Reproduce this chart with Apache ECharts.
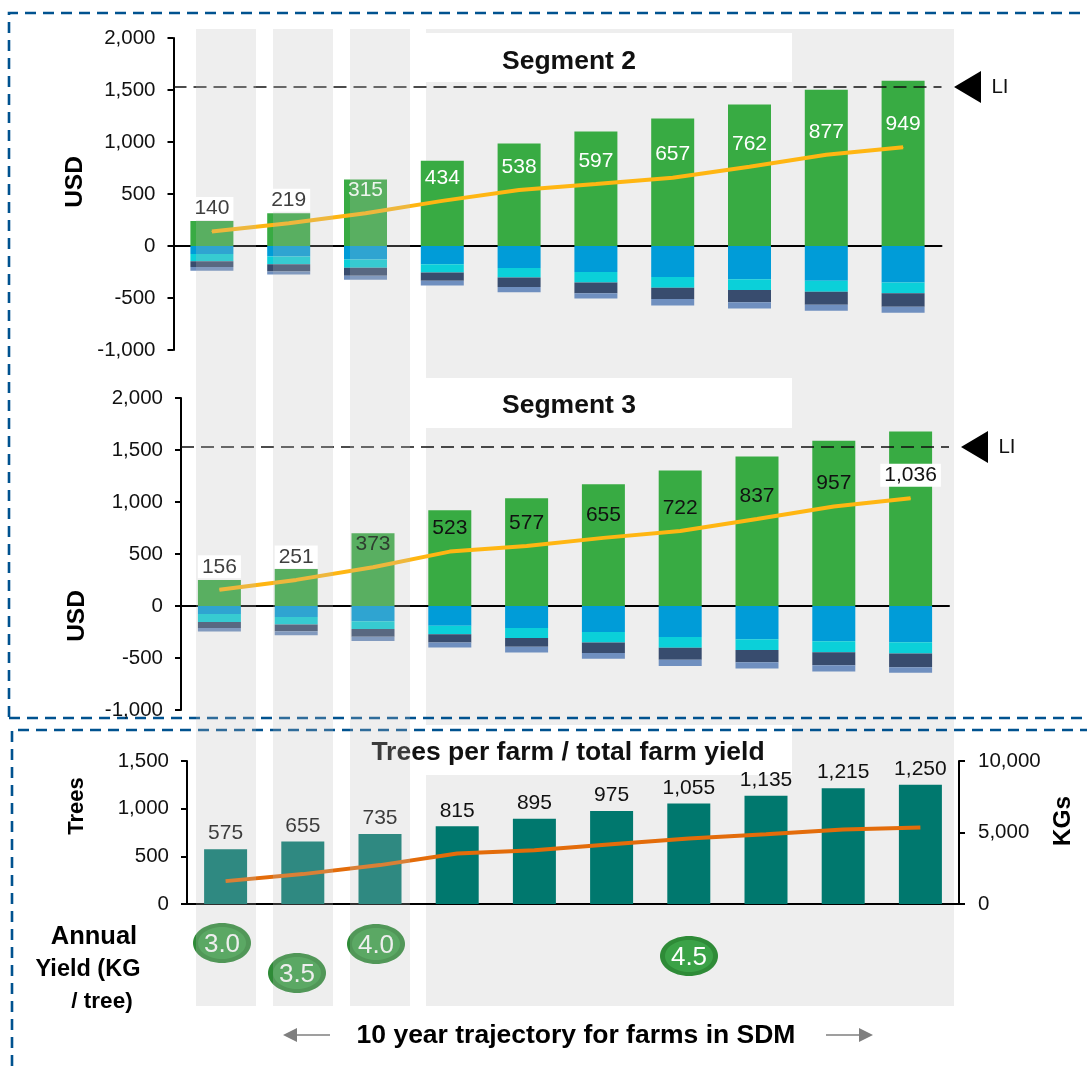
<!DOCTYPE html>
<html>
<head>
<meta charset="utf-8">
<title>10 year trajectory for farms in SDM</title>
<style>html,body{margin:0;padding:0;background:#fff}#chart{width:1087px;height:1066px}</style>
<script src="https://cdn.jsdelivr.net/npm/echarts@6/dist/echarts.min.js"></script>
</head>
<body>
<div id="chart"></div>
<script>
// Farm-year categories shared by all three panels
const years = ['1', '2', '3', '4', '5', '6', '7', '8', '9', '10'];

// Segment 2, USD per farm
const seg2Income = [240, 316, 640, 820, 985, 1100, 1227, 1360, 1502, 1588];
const seg2Net = [140, 219, 315, 434, 538, 597, 657, 762, 877, 949];
const seg2CostA = [-77, -100, -130, -175, -211, -250, -297, -320, -335, -350];
const seg2CostB = [-70, -75, -80, -80, -93, -100, -105, -103, -105, -105];
const seg2CostC = [-55, -70, -75, -80, -90, -105, -108, -118, -125, -130];
const seg2CostD = [-35, -30, -40, -45, -51, -50, -61, -61, -58, -58];

// Segment 3, USD per farm
const seg3Income = [250, 355, 700, 920, 1035, 1170, 1304, 1438, 1588, 1678];
const seg3Net = [156, 251, 373, 523, 577, 655, 722, 837, 957, 1036];
const seg3CostA = [-77, -105, -147, -189, -211, -249, -297, -320, -339, -348];
const seg3CostB = [-77, -74, -74, -83, -96, -102, -105, -102, -105, -109];
const seg3CostC = [-58, -64, -74, -80, -86, -102, -115, -118, -125, -131];
const seg3CostD = [-32, -38, -42, -48, -54, -54, -61, -61, -61, -54];

// Trees per farm and total farm yield
const trees = [575, 655, 735, 815, 895, 975, 1055, 1135, 1215, 1250];
const farmYield = [1600, 2090, 2720, 3535, 3766, 4184, 4580, 4880, 5207, 5350];
const annualYield = ['3.0', '3.5', '4.0', '4.5'];

// Living income reference level
const livingIncome = 1530;

const FONT = '"Liberation Sans", Arial, sans-serif';
const INK = '#111111';
const GREEN = '#38AB43', BLUE = '#009CD8', CYAN = '#0BD0D9', NAVY = '#384C6E', PALE = '#6F8FBF';
const TEAL = '#00786E', GOLD = '#FFB612', RUST = '#E36C0A';
const BAND = '#EEEEEE', VEIL = 'rgba(187,187,187,0.25)', BORDER = '#00528F', ARROW = '#7F7F7F';
const EARLY_YEARS = 3;

const tickStyle = { show: true, length: 6, lineStyle: { color: '#000', width: 2 } };
const lineStyle = { show: true, lineStyle: { color: '#000', width: 2 } };
const labelStyle = { color: INK, fontSize: 20.5, fontFamily: FONT };
const valueLabel = {
  show: true, position: 'top', distance: 11, fontSize: 21, fontFamily: FONT,
  padding: [1, 4], formatter: p => p.value.toLocaleString('en-US')
};

function usdAxis(gridIndex) {
  return {
    type: 'value', gridIndex, min: -1000, max: 2000, interval: 500,
    axisLine: lineStyle, axisTick: tickStyle, splitLine: { show: false },
    axisLabel: { ...labelStyle, margin: 18 }
  };
}
function catAxis(gridIndex) {
  return {
    type: 'category', gridIndex, data: years,
    axisLine: { ...lineStyle, onZero: true }, axisTick: { show: false }, axisLabel: { show: false }
  };
}
function stackBar(name, axis, stack, data, color) {
  return { name, type: 'bar', xAxisIndex: axis, yAxisIndex: axis, stack, data, barWidth: 43,
           itemStyle: { color }, z: 2 };
}
// Net income line with the later years labelled; the dashed level is attached here too
function netLine(name, axis, data, laterColor, plated) {
  return {
    name, type: 'line', xAxisIndex: axis, yAxisIndex: axis, z: 5,
    symbol: 'circle', symbolSize: 1, showAllSymbol: true,
    itemStyle: { color: GOLD }, lineStyle: { color: GOLD, width: 4 },
    data: data.map((value, i) => ({
      value,
      label: i < EARLY_YEARS
        ? { show: false }
        : { color: laterColor, backgroundColor: plated.includes(i) ? '#fff' : 'transparent' }
    })),
    label: valueLabel,
    markLine: {
      silent: true, symbol: 'none', label: { show: false },
      lineStyle: { color: '#111', width: 1.6, type: [13, 7] },
      data: [{ yAxis: livingIncome }]
    }
  };
}
// Labels of the early years stay on top of the veil, with their white plates intact
function earlyLabels(name, axis, data, colors, plated) {
  return {
    name, type: 'line', xAxisIndex: axis, yAxisIndex: axis, z: 101,
    symbol: 'circle', symbolSize: 1, showAllSymbol: true,
    itemStyle: { color: 'transparent' }, lineStyle: { width: 0, color: 'transparent' },
    data: data.slice(0, EARLY_YEARS).map((value, i) => ({
      value,
      label: { color: colors[i], backgroundColor: plated.includes(i) ? '#fff' : 'transparent' }
    })),
    label: valueLabel
  };
}

const chart = echarts.init(document.getElementById('chart'), null, { renderer: 'canvas' });

chart.setOption({
  animation: false,
  textStyle: { fontFamily: FONT },
  grid: [
    { left: 173.5, top: 38, width: 768, height: 312 },
    { left: 181, top: 398, width: 768, height: 312 },
    { left: 187, top: 761, width: 772, height: 143 }
  ],
  xAxis: [catAxis(0), catAxis(1), catAxis(2)],
  yAxis: [
    usdAxis(0),
    usdAxis(1),
    { type: 'value', gridIndex: 2, min: 0, max: 1500, interval: 500,
      axisLine: lineStyle, axisTick: tickStyle, splitLine: { show: false },
      axisLabel: { ...labelStyle, margin: 18 } },
    { type: 'value', gridIndex: 2, position: 'right', min: 0, max: 10000, interval: 5000,
      axisLine: lineStyle, axisTick: tickStyle, splitLine: { show: false },
      axisLabel: { ...labelStyle, margin: 19 } }
  ],
  series: [
    stackBar('Income', 0, 's2', seg2Income, GREEN),
    stackBar('Cost A', 0, 's2', seg2CostA, BLUE),
    stackBar('Cost B', 0, 's2', seg2CostB, CYAN),
    stackBar('Cost C', 0, 's2', seg2CostC, NAVY),
    stackBar('Cost D', 0, 's2', seg2CostD, PALE),
    netLine('Net income', 0, seg2Net, '#fff', []),
    earlyLabels('Net income early', 0, seg2Net, ['#3f3f3f', '#3f3f3f', '#eef5ee'], [0, 1]),

    stackBar('Income', 1, 's3', seg3Income, GREEN),
    stackBar('Cost A', 1, 's3', seg3CostA, BLUE),
    stackBar('Cost B', 1, 's3', seg3CostB, CYAN),
    stackBar('Cost C', 1, 's3', seg3CostC, NAVY),
    stackBar('Cost D', 1, 's3', seg3CostD, PALE),
    netLine('Net income', 1, seg3Net, '#111', [9]),
    earlyLabels('Net income early', 1, seg3Net, ['#3f3f3f', '#3f3f3f', '#2f3f30'], [0, 1]),

    { name: 'Trees', type: 'bar', xAxisIndex: 2, yAxisIndex: 2, data: trees, barWidth: 43,
      itemStyle: { color: TEAL }, z: 2,
      label: { show: true, position: 'top', distance: 5, color: INK, fontSize: 21, fontFamily: FONT,
               formatter: p => p.value.toLocaleString('en-US') } },
    { name: 'Farm yield', type: 'line', xAxisIndex: 2, yAxisIndex: 3, data: farmYield, z: 5,
      symbol: 'none', lineStyle: { color: RUST, width: 4 } }
  ]
});

// Annotation layer: shaded periods, panel frames, headings and yield badges
function rect(x, y, width, height, fill, z) {
  return { type: 'rect', shape: { x, y, width, height }, style: { fill }, z, silent: true };
}
function text(content, x, y, font, fill, z, rotation) {
  return { type: 'text', x, y, rotation: rotation || 0, z, silent: true,
           style: { text: content, font, fill, align: 'center', verticalAlign: 'middle' } };
}
function dashed(points) {
  return { type: 'polyline', shape: { points }, z: -1, silent: true,
           style: { stroke: BORDER, lineWidth: 2.6, lineDash: [11, 7], fill: null } };
}
function badge(label, cx, cy) {
  return [
    { type: 'ellipse', shape: { cx, cy, rx: 29, ry: 20 }, style: { fill: '#2E8B37' }, z: 10, silent: true },
    { type: 'ellipse', shape: { cx, cy, rx: 24, ry: 16 }, style: { fill: '#3BA247' }, z: 10, silent: true },
    text(label, cx, cy + 2, '26px ' + FONT, '#fff', 11)
  ];
}
function arrow(tip, tail, y) {
  const head = tip + (tail > tip ? 14 : -14);
  return [
    { type: 'line', shape: { x1: head, y1: y, x2: tail, y2: y }, style: { stroke: ARROW, lineWidth: 1.6 }, z: 10, silent: true },
    { type: 'polygon', shape: { points: [[tip, y], [head, y - 7], [head, y + 7]] }, style: { fill: ARROW }, z: 10, silent: true }
  ];
}
function liMarker(tipX, axisIndex) {
  const y = chart.convertToPixel({ yAxisIndex: axisIndex }, livingIncome);
  return [
    { type: 'polygon', shape: { points: [[tipX, y], [tipX + 27, y - 16], [tipX + 27, y + 16]] },
      style: { fill: '#000' }, z: 10, silent: true },
    text('LI', tipX + 46, y, '20.5px ' + FONT, INK, 10)
  ];
}

const HEAD = 'bold 26.5px ' + FONT;
const AXIS_HEAD = 'bold 24.5px ' + FONT;
const earlyBands = [[196, 60], [273, 60], [350, 60]];

chart.setOption({
  graphic: { elements: [
    rect(426, 29, 528, 977, BAND, -3),
    rect(426, 33, 366, 49, '#fff', -2),
    rect(426, 378, 366, 50, '#fff', -2),
    rect(426, 725, 366, 50, '#fff', -2),

    dashed([[9, 717], [9, 13], [1087, 13]]),
    dashed([[9, 718], [1087, 718]]),
    dashed([[12, 1066], [12, 730], [1087, 730]]),

    text('Segment 2', 569, 62, HEAD, INK, 10),
    text('Segment 3', 569, 406, HEAD, INK, 10),
    text('Trees per farm / total farm yield', 568, 753, HEAD, INK, 10),

    text('USD', 75, 182, AXIS_HEAD, '#000', 10, Math.PI / 2),
    text('USD', 77, 616, AXIS_HEAD, '#000', 10, Math.PI / 2),
    text('Trees', 77, 806, 'bold 22px ' + FONT, '#000', 10, Math.PI / 2),
    text('KGs', 1063, 821, AXIS_HEAD, '#000', 10, Math.PI / 2),

    text('Annual', 94, 937, 'bold 25.5px ' + FONT, '#000', 10),
    text('Yield (KG', 88, 970, 'bold 23.5px ' + FONT, '#000', 10),
    text('/ tree)', 102, 1002, 'bold 22.5px ' + FONT, '#000', 10),

    ...badge(annualYield[0], 222, 943),
    ...badge(annualYield[1], 297, 973),
    ...badge(annualYield[2], 376, 944),
    ...badge(annualYield[3], 689, 956),

    text('10 year trajectory for farms in SDM', 576, 1036, 'bold 26.5px ' + FONT, '#000', 10),
    ...arrow(283, 330, 1035),
    ...arrow(873, 826, 1035),

    ...liMarker(954, 0),
    ...liMarker(961, 1),

    // Early years sit behind a translucent grey veil
    ...earlyBands.map(([x, w]) => rect(x, 29, w, 977, VEIL, 100))
  ] }
});
</script>
</body>
</html>
